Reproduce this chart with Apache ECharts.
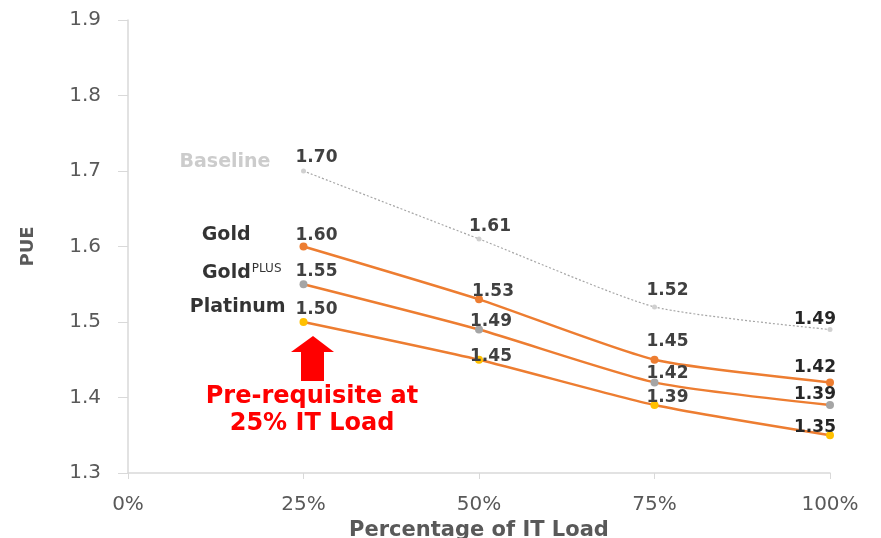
<!DOCTYPE html>
<html>
<head>
<meta charset="utf-8">
<title>PUE vs Percentage of IT Load</title>
<script src="https://cdn.jsdelivr.net/npm/echarts@6/dist/echarts.min.js"></script>
<style>
  html, body { margin: 0; padding: 0; background: #fff; }
  #chart { width: 881px; height: 538px; }
</style>
</head>
<body>
<div id="chart"></div>
<script>
// IT load levels (fraction of full load)
const loads = [0.25, 0.5, 0.75, 1.0];
const xTicks = ['0%', '25%', '50%', '75%', '100%'];

// PUE per tier at each load level
const baseline = [1.70, 1.61, 1.52, 1.49];
const gold = [1.60, 1.53, 1.45, 1.42];
const goldPlus = [1.55, 1.49, 1.42, 1.39];
const platinum = [1.50, 1.45, 1.39, 1.35];

const tierNames = ['Baseline', 'Gold', 'GoldPLUS', 'Platinum'];

// value-label nudges [dx, dy] from each marker centre
const labelNudge = {
  Baseline: [[13, -13], [11, -12], [13, -16], [-15, -10]],
  Gold: [[13, -11], [14, -8], [13, -18], [-15, -15]],
  GoldPLUS: [[13, -13], [12, -8], [13, -9], [-15, -10]],
  Platinum: [[13, -12], [12, -3], [13, -7], [-15, -8]]
};

const FONT = '"DejaVu Sans", "Liberation Sans", sans-serif';
const ORANGE = '#ED7D31';
const SMOOTH = 0.2;

function pairs(vals) {
  return loads.map((x, i) => [x, vals[i]]);
}

function valueLabels(name, vals, color) {
  return pairs(vals).map((p, i) => ({
    value: p,
    label: {
      show: true,
      position: 'inside',
      offset: labelNudge[name][i],
      formatter: () => vals[i].toFixed(2),
      color: i === 3 ? '#262626' : color,
      fontFamily: FONT,
      fontWeight: 'bold',
      fontSize: 17
    }
  }));
}

function tierLine(name, vals, markerColor) {
  return {
    name: name,
    type: 'line',
    smooth: SMOOTH,
    data: valueLabels(name, vals, '#404040'),
    symbol: 'circle',
    symbolSize: 8,
    lineStyle: { color: ORANGE, width: 2.5 },
    itemStyle: { color: markerColor },
    z: 3
  };
}

// tier names written beside the 25% markers
const nameValues = [baseline[0], gold[0], goldPlus[0], platinum[0]];
const nameStyle = {
  Baseline: { offset: [-33, -9], color: '#BFBFBF' },
  Gold: { offset: [-53, -11], color: '#000' },
  GoldPLUS: { offset: [-22, -11], color: '#000' },
  Platinum: { offset: [-18, -15], color: '#000' }
};

const nameSeries = {
  type: 'scatter',
  symbolSize: 0,
  silent: true,
  data: tierNames.map((n, i) => ({
    value: [loads[0], nameValues[i]],
    label: {
      show: true,
      position: 'inside',
      align: 'right',
      verticalAlign: 'middle',
      offset: nameStyle[n].offset,
      color: nameStyle[n].color,
      fontFamily: FONT,
      fontWeight: 'bold',
      fontSize: 19,
      formatter: n === 'GoldPLUS' ? 'Gold{sup|PLUS}' : n,
      rich: {
        sup: {
          fontFamily: FONT,
          fontWeight: 'normal',
          fontSize: 12,
          color: '#000',
          verticalAlign: 'top',
          padding: [0, 0, 8, 1]
        }
      }
    }
  }))
};

const chart = echarts.init(document.getElementById('chart'), null, { renderer: 'canvas' });

chart.setOption({
  animation: false,
  backgroundColor: '#fff',
  grid: { left: 128, right: 51, top: 20, bottom: 65, containLabel: false, outerBoundsMode: 'none' },
  xAxis: {
    type: 'value',
    min: 0,
    max: 1,
    interval: 0.25,
    name: 'Percentage of IT Load',
    nameLocation: 'middle',
    nameGap: 44,
    nameTextStyle: { fontFamily: FONT, fontWeight: 'bold', fontSize: 21, color: '#595959' },
    axisLine: { lineStyle: { color: '#D9D9D9', width: 1.5 } },
    axisTick: { show: true, length: 6, lineStyle: { color: '#D9D9D9' } },
    axisLabel: {
      margin: 22,
      fontFamily: FONT,
      fontSize: 20,
      color: '#595959',
      formatter: v => xTicks[Math.round(v / 0.25)]
    },
    splitLine: { show: false }
  },
  yAxis: {
    type: 'value',
    min: 1.3,
    max: 1.9,
    interval: 0.1,
    name: 'PUE',
    nameLocation: 'middle',
    nameGap: 91,
    nameTextStyle: { fontFamily: FONT, fontWeight: 'bold', fontSize: 18, color: '#595959' },
    axisLine: { show: true, lineStyle: { color: '#D9D9D9', width: 1.5 } },
    axisTick: { show: true, length: 10, lineStyle: { color: '#D9D9D9' } },
    axisLabel: {
      margin: 27,
      fontFamily: FONT,
      fontSize: 20,
      color: '#595959',
      formatter: v => v.toFixed(1)
    },
    splitLine: { show: false }
  },
  series: [
    {
      name: 'Baseline',
      type: 'line',
      smooth: SMOOTH,
      data: valueLabels('Baseline', baseline, '#404040'),
      symbol: 'circle',
      symbolSize: 5,
      lineStyle: { color: '#A6A6A6', width: 1.2, type: [2, 2] },
      itemStyle: { color: '#D0D0D0' },
      z: 2
    },
    tierLine('Gold', gold, ORANGE),
    tierLine('GoldPLUS', goldPlus, '#A5A5A5'),
    tierLine('Platinum', platinum, '#FFC000'),
    nameSeries
  ],
  graphic: [
    {
      type: 'polygon',
      shape: {
        points: [[313, 336], [334, 352], [324, 352], [324, 381], [301, 381], [301, 352], [291, 352]]
      },
      style: { fill: '#FF0000' }
    },
    {
      type: 'text',
      x: 312,
      y: 383,
      style: {
        text: 'Pre-requisite at\n25% IT Load',
        fill: '#FF0000',
        font: 'bold 24px ' + FONT,
        align: 'center',
        verticalAlign: 'top',
        lineHeight: 27
      }
    }
  ]
});
</script>
</body>
</html>
